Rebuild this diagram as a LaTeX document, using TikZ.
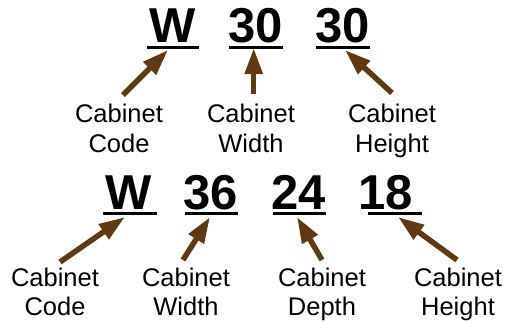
\documentclass[tikz,border=0pt]{standalone}
\usepackage{fontspec}
\setmainfont{Liberation Sans}
\usetikzlibrary{arrows.meta}
\definecolor{arrowbrown}{RGB}{96,57,19}
\begin{document}
\begin{tikzpicture}[x=1pt,y=1pt,
  code/.style={font=\fontsize{49}{49}\selectfont\bfseries, inner sep=0pt, anchor=base},
  lbl/.style={font=\fontsize{25.5}{25.5}\selectfont, inner sep=0pt, anchor=base},
  uline/.style={line width=3pt},
  arr/.style={draw=arrowbrown, line width=5.5pt, -{Triangle[length=26pt,width=17pt]}}]
\useasboundingbox (0,0) rectangle (508,-322);

% top row codes
\node[code] (tw)  at (172.5,-42) {W};
\node[code] (tn1) at (256,-42) {30};
\node[code] (tn2) at (342.5,-42) {30};
\draw[uline] ([shift={(-25.5,-5)}]tw.base) -- ([shift={(26.5,-5)}]tw.base);
\draw[uline] ([shift={(-27,-5)}]tn1.base) -- ([shift={(27,-5)}]tn1.base);
\draw[uline] ([shift={(-26.5,-5)}]tn2.base) -- ([shift={(27.5,-5)}]tn2.base);

% top row labels
\node[lbl] (ta1) at (119,-122) {Cabinet};
\node[lbl] (tb1) at (119,-152) {Code};
\node[lbl] (ta2) at (251,-122) {Cabinet};
\node[lbl] (tb2) at (251,-152) {Width};
\node[lbl] (ta3) at (392,-122) {Cabinet};
\node[lbl] (tb3) at (392,-152) {Height};

% top row arrows
\coordinate (tt1) at (123,-95);   \coordinate (th1) at (168,-50);
\coordinate (tt2) at (253.7,-94); \coordinate (th2) at (253.7,-48);
\coordinate (tt3) at (392,-93);   \coordinate (th3) at (345,-50);
\draw[arr] (tt1) -- (th1);
\draw[arr] (tt2) -- (th2);
\draw[arr] (tt3) -- (th3);

% bottom row codes
\node[code] (bw)  at (128.5,-209) {W};
\node[code] (bn1) at (211,-209) {36};
\node[code] (bn2) at (299,-209) {24};
\node[code] (bn3) at (385.5,-209) {18};
\draw[uline] ([shift={(-25.5,-4.5)}]bw.base) -- ([shift={(28.5,-4.5)}]bw.base);
\draw[uline] ([shift={(-26,-4.5)}]bn1.base) -- ([shift={(27,-4.5)}]bn1.base);
\draw[uline] ([shift={(-26,-4.5)}]bn2.base) -- ([shift={(27,-4.5)}]bn2.base);
\draw[uline] ([shift={(-17.5,-4.5)}]bn3.base) -- ([shift={(36.5,-4.5)}]bn3.base);

% bottom row labels
\node[lbl] (ba1) at (55,-286) {Cabinet};
\node[lbl] (bb1) at (55,-315) {Code};
\node[lbl] (ba2) at (186,-286) {Cabinet};
\node[lbl] (bb2) at (186,-315) {Width};
\node[lbl] (ba3) at (322,-286) {Cabinet};
\node[lbl] (bb3) at (322,-315) {Depth};
\node[lbl] (ba4) at (458,-286) {Cabinet};
\node[lbl] (bb4) at (458,-315) {Height};

% bottom row arrows
\coordinate (bt1) at (60,-262);  \coordinate (bh1) at (125,-217);
\coordinate (bt2) at (183,-260); \coordinate (bh2) at (210,-217);
\coordinate (bt3) at (322,-260); \coordinate (bh3) at (297,-217);
\coordinate (bt4) at (457,-260); \coordinate (bh4) at (398,-217);
\draw[arr] (bt1) -- (bh1);
\draw[arr] (bt2) -- (bh2);
\draw[arr] (bt3) -- (bh3);
\draw[arr] (bt4) -- (bh4);
\end{tikzpicture}
\end{document}
